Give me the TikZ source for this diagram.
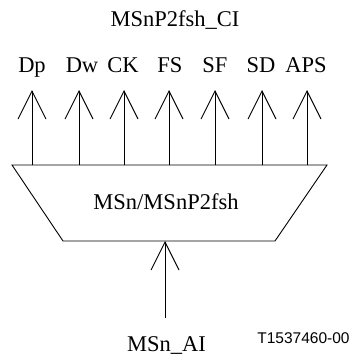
\documentclass[tikz,border=0pt]{standalone}
\usepackage{fontspec}
\setmainfont{Liberation Serif}
\newfontfamily\arialfont{Liberation Sans}
\usetikzlibrary{arrows.meta}
\begin{document}
\begin{tikzpicture}[x=1pt,y=-1pt,
  lbl/.style={font=\fontsize{22.5}{26}\selectfont, inner sep=0pt, anchor=base},
  ref/.style={font=\arialfont\fontsize{15.5}{18}\selectfont, inner sep=0pt, anchor=base},
  sig/.style={line width=0.9pt, -{Straight Barb[length=28pt,width=28pt,line width=0.9pt]}},
  box/.style={line width=0.9pt, line join=miter}]
\useasboundingbox (0,0) rectangle (351,356);
% block
\coordinate (tl) at (12,165);
\coordinate (tr) at (327,165);
\coordinate (br) at (275,241);
\coordinate (bl) at (63,241);
\draw[box] (tl) -- (tr) -- (br) -- (bl) -- cycle;
\node[lbl] (blk) at (166,209) {MSn/MSnP2fsh};
% title
\node[lbl] (title) at (175,26) {MSnP2fsh\_CI};
% outputs
\foreach \n/\x/\lx/\t in {1/32/32/Dp, 2/79/82/Dw, 3/124/123/CK, 4/169/170/FS, 5/215/215/SF, 6/262/261/SD, 7/307/306/APS}{
  \coordinate (s\n) at (\x,165);
  \coordinate (e\n) at (\x,90);
  \node[lbl] (l\n) at (\lx,72) {\t};
  \draw[sig] (s\n) -- (e\n);
}
% input
\coordinate (in) at (165,318);
\coordinate (inend) at (165,241);
\draw[sig] (in) -- (inend);
\node[lbl] (ai) at (166.5,351) {MSn\_AI};
\node[ref] (tag) at (303.5,343) {T1537460-00};
\end{tikzpicture}
\end{document}
